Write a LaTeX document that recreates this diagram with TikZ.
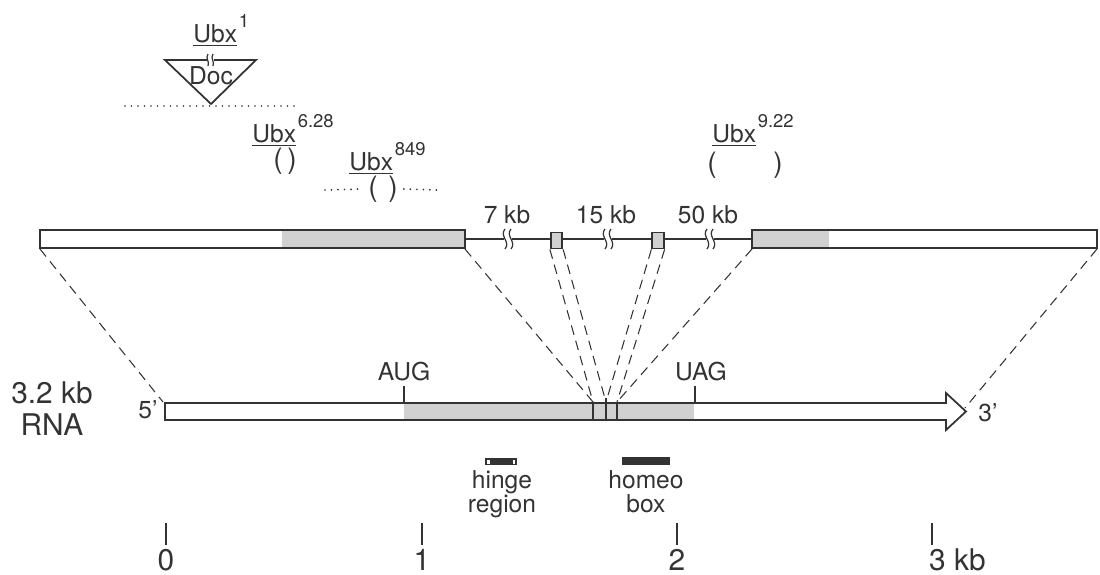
\documentclass[tikz,border=0pt]{standalone}
\usepackage{fontspec}
\setmainfont{TeX Gyre Heros}
\usetikzlibrary{calc}

\definecolor{ink}{gray}{0.2}
\definecolor{exongrey}{gray}{0.82}

% allele name, underlined, with raised superscript
\newcommand{\allele}[1]{\underline{Ubx}\kern1pt\raisebox{8pt}{\fontsize{10.5}{11}\selectfont #1}}
% break mark on the intron line
\newcommand{\intronbreak}[1]{%
  \fill[white] (#1-4,233) rectangle (#1+4,245);
  \draw[squig] (#1-3,229) .. controls (#1-9,236) and (#1+3,242) .. (#1-3,249);
  \draw[squig] (#1+3,229) .. controls (#1-3,236) and (#1+9,242) .. (#1+3,249);}

\begin{document}
\begin{tikzpicture}[
  x=0.02cm, y=-0.02cm,
  font=\fontsize{14}{16}\selectfont, text=ink,
  bar/.style={draw=ink, line width=1pt},
  exon/.style={draw=ink, line width=1pt, fill=exongrey, inner sep=0pt,
               minimum width=0.23cm, minimum height=0.32cm},
  link/.style={draw=ink, line width=0.6pt, dash pattern=on 5.5pt off 3.5pt},
  dots/.style={draw=ink, line width=1.1pt, line cap=round, dash pattern=on 0pt off 3.7pt},
  squig/.style={draw=ink, line width=0.7pt},
  junction/.style={draw=ink, line width=1.3pt},
  tick/.style={draw=ink, line width=0.8pt},
  big/.style={font=\fontsize{17}{19}\selectfont},
  paren/.style={font=\fontsize{16}{18}\selectfont},
]
\useasboundingbox (0,0) rectangle (1100,575);

% ================= alleles =================
\node[anchor=base west, inner sep=0pt] (u1) at (193,42) {\allele{1}};
\draw[bar] (165,60) -- (256,60) -- (211,104) -- cycle;
\fill[white] (207,56) rectangle (214,64);
\draw[squig] (208,54) .. controls (205,58) and (210,62) .. (208,66);
\draw[squig] (213,54) .. controls (210,58) and (215,62) .. (213,66);
\node (doc) at (211,76) {Doc};
\coordinate (d1a) at (125,106);
\coordinate (d1b) at (297,106);
\draw[dots] (d1a) -- (d1b);

\node[anchor=base west, inner sep=0pt] (u628) at (252,142) {\allele{6.28}};
\node[paren] (p628) at (285,161) {(\,)};

\node[anchor=base west, inner sep=0pt] (u849) at (349,170) {\allele{849}};
\node[paren] (p849a) at (373,189) {(};
\node[paren] (p849b) at (393,189) {)};
\coordinate (d8a) at (325,190);
\coordinate (d8b) at (437,190);
\draw[dots] (d8a) -- (p849a.west);
\draw[dots] (p849b.east) -- (d8b);

\node[anchor=base west, inner sep=0pt] (u922) at (712,142) {\allele{9.22}};
\node[paren] (p922a) at (712,165) {(};
\node[paren] (p922b) at (778,165) {)};

% ================= genomic map =================
\coordinate (gA) at (40,249);
\coordinate (gB) at (465,249);
\coordinate (gC) at (752,249);
\coordinate (gD) at (1097,249);

\draw[ink, line width=0.8pt] (465,239) -- (752,239);
\fill[exongrey] (282,230) rectangle (465,248);
\draw[bar] (40,230) rectangle (465,248);
\fill[exongrey] (752,230) rectangle (829,248);
\draw[bar] (752,230) rectangle (1097,248);

\node[exon] (e1) at (556.5,240.5) {};
\node[exon] (e2) at (658,240.5) {};

\intronbreak{508}
\intronbreak{608}
\intronbreak{710}

\node (k7)  at (507,215) {7 kb};
\node (k15) at (606,215) {15 kb};
\node (k50) at (708,215) {50 kb};

% ================= RNA =================
\fill[exongrey] (404,403) rectangle (694,420);
\draw[bar] (165,403) -- (946,403) -- (946,393) -- (966,411.5)
           -- (946,430) -- (946,420) -- (165,420) -- cycle;

\coordinate (r5) at (163,402);
\coordinate (r3) at (965,408);
\coordinate (j1) at (593,402);
\coordinate (j2) at (606,402);
\coordinate (j3) at (617,402);
\draw[junction] (593,403) -- (593,420);
\draw[junction] (606,398) -- (606,420);
\draw[junction] (617,403) -- (617,420);

\node (aug) at (404,372) {AUG};
\draw[tick] (404,386) -- (404,403);
\node (uag) at (701,372) {UAG};
\draw[tick] (695,386) -- (695,403);

\node (p5) at (148,410) {5’};
\node (p3) at (988,413) {3’};
\node[big, inner sep=0pt] (len) at (52,393) {3.2 kb};
\node[big, inner sep=0pt] (rna) at (52,425) {RNA};

% genomic segments onto the RNA
\draw[link] (gA) -- (r5);
\draw[link] (gB) -- (j1);
\draw[link] (e1.south west) -- (j1);
\draw[link] (e1.south east) -- (j2);
\draw[link] (e2.south west) -- (j2);
\draw[link] (e2.south east) -- (j3);
\draw[link] (gC) -- (j3);
\draw[link] (gD) -- (r3);

% ================= protein regions =================
\fill[ink] (485,458) rectangle (517,465);
\fill[white] (487,459.5) rectangle (489.5,463.5);
\fill[white] (512.5,459.5) rectangle (515,463.5);
\node[anchor=base] (hinge) at (502,488) {hinge};
\node[anchor=base] (hreg) at (502,512) {region};

\fill[ink] (622,457) rectangle (670,465);
\node[anchor=base] (homeo) at (646,488) {homeo};
\node[anchor=base] (hbox) at (646,512) {box};

% ================= scale =================
\foreach \x/\lab in {166/0, 422/1, 677/2} {
  \draw[tick] (\x,523) -- (\x,545);
  \node[big, anchor=base] (s\lab) at (\x,570) {\lab};
}
\draw[tick] (932,523) -- (932,545);
\node[big, anchor=base west] (s3) at (923,570) {3 kb};

\end{tikzpicture}
\end{document}
